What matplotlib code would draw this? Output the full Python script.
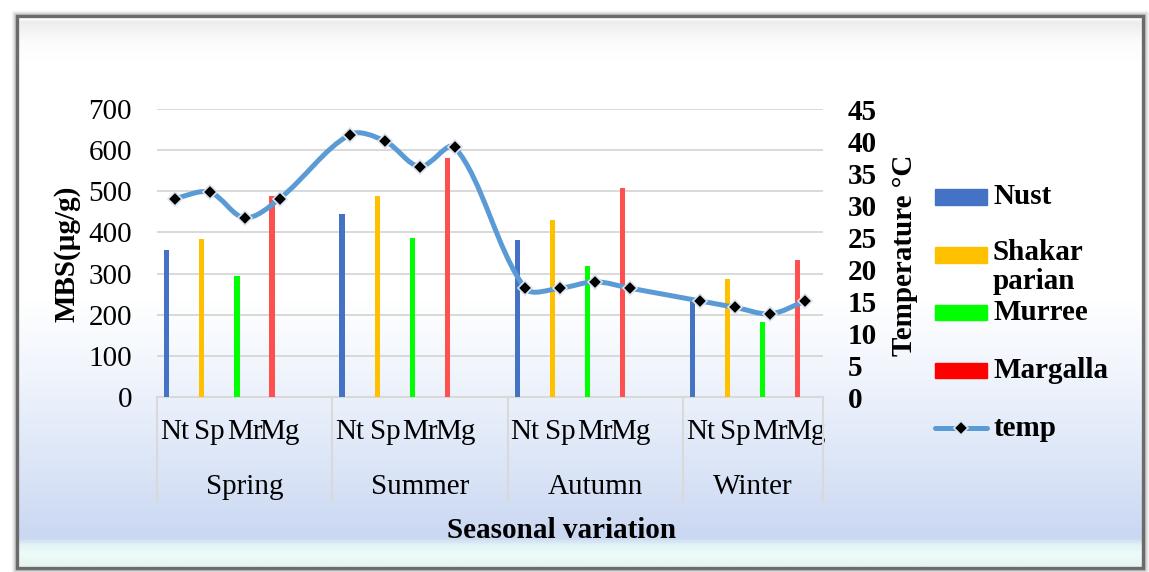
import numpy as np
import matplotlib.pyplot as plt
import matplotlib.transforms as mtransforms
from matplotlib.path import Path
from matplotlib.patches import PathPatch, Rectangle
from matplotlib.lines import Line2D
from matplotlib.colors import LinearSegmentedColormap

plt.rcParams['font.family'] = ['Liberation Serif', 'DejaVu Serif']

seasons = ['Spring', 'Summer', 'Autumn', 'Winter']
sites = ['Nt', 'Sp', 'Mr', 'Mg']
series_names = ['Nust', 'Shakar\nparian', 'Murree', 'Margalla']
bar_colors = ['#4472C4', '#FFC000', '#00FF00', '#FF5050']
legend_colors = ['#4472C4', '#FFC000', '#00FF00', '#FF0000']

# MBS (ug/g) per season for each site
nust = [358, 446, 381, 236]
shakar = [384, 489, 430, 287]
murree = [294, 386, 318, 182]
margalla = [489, 581, 508, 333]
series = [nust, shakar, murree, margalla]

# temperature, season by season, sites Nt Sp Mr Mg
temp = [31, 32, 28, 31,
        41, 40, 36, 39,
        17, 17, 18, 17,
        15, 14, 13, 15]

W, H = 1149, 572
fig = plt.figure(figsize=(W / 100, H / 100), dpi=100)
fig.patch.set_facecolor('white')

# -- background + frame --
bg = fig.add_axes([0, 0, 1, 1], zorder=-10)
bg.set_xlim(0, W)
bg.set_ylim(H, 0)
bg.axis('off')
stops = [(17, '#FFFFFF'), (20, '#EDEDED'), (40, '#FBFBFB'), (60, '#FFFFFF'),
         (300, '#FFFFFF'), (360, '#F3F7FD'), (420, '#E6EDFA'), (480, '#D9E3F6'),
         (540, '#C9D7F1'), (546, '#E2F3F5'), (556, '#EEFCF8'), (567, '#E6F4F3')]
y0, y1 = stops[0][0], stops[-1][0]
cmap = LinearSegmentedColormap.from_list(
    'bg', [((y - y0) / (y1 - y0), c) for y, c in stops])
grad = np.linspace(0, 1, 600).reshape(-1, 1)
bg.imshow(grad, cmap=cmap, aspect='auto', extent=[17, 1143, y1, y0],
          interpolation='bilinear')
for i, a in enumerate([0.25, 0.18, 0.12, 0.07, 0.03]):
    bg.add_patch(Rectangle((16.5 - i - 1, 15.5 - i - 1), 1126.5 + 2 * i + 2,
                           552.5 + 2 * i + 2, fill=False, ec='black',
                           lw=1, alpha=a))
bg.add_patch(Rectangle((16.5, 15.5), 1126.5, 552.5, fill=False,
                       ec='#6B6B6B', lw=2.4))

# -- main axes --
ax = fig.add_axes([157 / W, (H - 397) / H, 666 / W, 288 / H])
ax.patch.set_visible(False)
ax2 = ax.twinx()
ax2.patch.set_visible(False)

xpos = np.array([5 * s + i for s in range(4) for i in range(4)], float)

bw = 0.15
off = -0.22
for i, vals in enumerate(series):
    x = [5 * s + i + off for s in range(4)]
    ax.bar(x, vals, width=bw, color=bar_colors[i], zorder=3)

ax.set_xlim(-0.5, 18.5)
ax.set_ylim(0, 700)
ax.set_yticks(np.arange(0, 701, 100))
ax.yaxis.grid(True, color='#D9D9D9', lw=1.4)
ax.set_axisbelow(True)
for sp in ['top', 'left', 'right']:
    ax.spines[sp].set_visible(False)
ax.spines['bottom'].set_color('#D9D9D9')
ax.spines['bottom'].set_linewidth(1.5)
ax.tick_params(axis='y', length=0, pad=18, labelsize=21)
ax.set_xticks(xpos)
ax.set_xticklabels(sites * 4)
ax.tick_params(axis='x', length=0, pad=16, labelsize=21)

# season labels and separators (groups hold a blank slot, last one does not)
bounds = [-0.5, 4.5, 9.5, 14.5, 18.5]
trans = mtransforms.blended_transform_factory(ax.transData, ax.transAxes)
for s, name in enumerate(seasons):
    ax.text((bounds[s] + bounds[s + 1]) / 2, -0.312, name, transform=trans,
            ha='center', va='center', fontsize=21)
for xb in bounds:
    ax.add_line(Line2D([xb, xb], [0, -0.36], transform=trans, color='#D9D9D9',
                       lw=1.5, clip_on=False))

# -- temperature line (smoothed bezier through the points) --
ax2.set_ylim(0, 45)
ax2.set_yticks(np.arange(0, 46, 5))
ax2.tick_params(axis='y', length=0, pad=18, labelsize=21)
for lab in ax2.get_yticklabels():
    lab.set_fontweight('bold')
for sp in ax2.spines.values():
    sp.set_visible(False)

sx = 666 / 19.0
sy = 288 / 45.0
P = np.column_stack([xpos * sx, np.array(temp, float) * sy])
n = len(P)
verts = [P[0]]
codes = [Path.MOVETO]
for k in range(n - 1):
    p0 = P[max(k - 1, 0)]
    p1 = P[k]
    p2 = P[k + 1]
    p3 = P[min(k + 2, n - 1)]
    d01 = np.hypot(*(p1 - p0))
    d12 = np.hypot(*(p2 - p1))
    d23 = np.hypot(*(p3 - p2))
    c1 = p1 + (p2 - p0) * d12 / (d01 + d12) / 3
    c2 = p2 - (p3 - p1) * d12 / (d12 + d23) / 3
    verts += [c1, c2, p2]
    codes += [Path.CURVE4] * 3
verts = np.array(verts) / np.array([sx, sy])
ax2.add_patch(PathPatch(Path(verts, codes), fill=False, ec='#5B9BD5',
                        lw=3.6, capstyle='round', joinstyle='round', zorder=4))
ax2.plot(xpos, temp, ls='none', marker='D', ms=7.5, mfc='black',
         mec='#DCE3EE', mew=1.2, zorder=5)

# -- axis titles --
fig.text(67 / W, 1 - 254 / H, 'MBS(µg/g)', rotation=90, ha='center',
         va='center', fontsize=21, fontweight='bold')
fig.text(904 / W, 1 - 255 / H, 'Temperature °C', rotation=90, ha='center',
         va='center', fontsize=21, fontweight='bold')
fig.text(562 / W, 1 - 530 / H, 'Seasonal variation', ha='center',
         va='center', fontsize=21, fontweight='bold')

# -- legend --
leg_y = [197, 255, 312, 370]
for name, col, y in zip(series_names, legend_colors, leg_y):
    fig.patches.append(Rectangle((935 / W, 1 - (y + 7.5) / H), 52 / W,
                                 15 / H, transform=fig.transFigure,
                                 color=col))
    if '\n' in name:
        fig.text(993 / W, 1 - (y - 16) / H, name, ha='left', va='top',
                 fontsize=21, fontweight='bold', linespacing=1.1)
    else:
        fig.text(993 / W, 1 - y / H, name, ha='left', va='center',
                 fontsize=21, fontweight='bold')
fig.lines.append(Line2D([935 / W, 987 / W], [1 - 428 / H] * 2,
                        transform=fig.transFigure, color='#5B9BD5', lw=3.6,
                        solid_capstyle='round'))
fig.lines.append(Line2D([961 / W], [1 - 428 / H], transform=fig.transFigure,
                        marker='D', ms=7, mfc='black', mec='#DCE3EE',
                        mew=1.2))
fig.text(993 / W, 1 - 428 / H, 'temp', ha='left', va='center', fontsize=21,
         fontweight='bold')

fig.savefig('out.png', dpi=100)
